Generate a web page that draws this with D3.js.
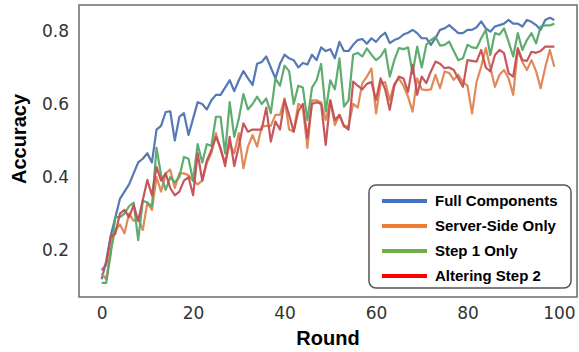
<!DOCTYPE html>
<html>
<head>
<meta charset="utf-8">
<script src="https://cdn.jsdelivr.net/npm/d3@7"></script>
<style>
  body { margin: 0; background: #fff; }
  svg { display: block; }
</style>
</head>
<body>
<div class="chart-container"></div>
<script>
// accuracy per round
const fullComponents = [
  0.12, 0.17, 0.24, 0.29, 0.34, 0.36, 0.38, 0.41, 0.44, 0.45,
  0.465, 0.44, 0.53, 0.54, 0.578, 0.58, 0.50, 0.565, 0.575, 0.515,
  0.56, 0.605, 0.60, 0.585, 0.61, 0.625, 0.625, 0.645, 0.665, 0.635,
  0.665, 0.69, 0.67, 0.652, 0.71, 0.715, 0.73, 0.70, 0.67, 0.71,
  0.735, 0.725, 0.72, 0.70, 0.712, 0.708, 0.735, 0.72, 0.755, 0.745,
  0.75, 0.725, 0.77, 0.745, 0.745, 0.762, 0.775, 0.778, 0.765, 0.78,
  0.77, 0.785, 0.795, 0.767, 0.775, 0.78, 0.79, 0.795, 0.803, 0.794,
  0.78, 0.78, 0.762, 0.78, 0.803, 0.807, 0.816, 0.805, 0.794, 0.794,
  0.803, 0.803, 0.81, 0.826, 0.807, 0.798, 0.812, 0.816, 0.82, 0.83,
  0.82, 0.82, 0.812, 0.83, 0.825, 0.816, 0.803, 0.83, 0.836, 0.83
];
const serverSideOnly = [
  0.137, 0.12, 0.20, 0.255, 0.27, 0.246, 0.30, 0.28, 0.285, 0.255,
  0.33, 0.31, 0.40, 0.36, 0.41, 0.42, 0.37, 0.41, 0.41, 0.405,
  0.39, 0.38, 0.39, 0.438, 0.465, 0.52, 0.474, 0.44, 0.49, 0.465,
  0.52, 0.424, 0.483, 0.515, 0.483, 0.538, 0.54, 0.54, 0.57, 0.57,
  0.615, 0.53, 0.525, 0.60, 0.59, 0.48, 0.61, 0.61, 0.605, 0.556,
  0.61, 0.542, 0.57, 0.538, 0.54, 0.60, 0.59, 0.657, 0.675, 0.697,
  0.574, 0.655, 0.66, 0.61, 0.655, 0.67, 0.65, 0.62, 0.579, 0.67,
  0.64, 0.638, 0.64, 0.68, 0.643, 0.689, 0.685, 0.666, 0.68, 0.66,
  0.65, 0.574, 0.661, 0.702, 0.753, 0.70, 0.647, 0.68, 0.693, 0.67,
  0.625, 0.748, 0.715, 0.693, 0.72, 0.69, 0.643, 0.70, 0.748, 0.702
];
const step1Only = [
  0.11, 0.11, 0.19, 0.29, 0.29, 0.30, 0.32, 0.33, 0.227, 0.335,
  0.33, 0.32, 0.48, 0.405, 0.365, 0.40, 0.385, 0.40, 0.455, 0.45,
  0.39, 0.49, 0.44, 0.49, 0.485, 0.565, 0.565, 0.465, 0.605, 0.51,
  0.56, 0.627, 0.585, 0.60, 0.62, 0.60, 0.615, 0.575, 0.67, 0.65,
  0.705, 0.69, 0.60, 0.65, 0.645, 0.556, 0.645, 0.665, 0.71, 0.58,
  0.665, 0.64, 0.725, 0.593, 0.61, 0.735, 0.74, 0.73, 0.752, 0.735,
  0.72, 0.73, 0.75, 0.675, 0.72, 0.753, 0.75, 0.755, 0.684, 0.757,
  0.70, 0.762, 0.775, 0.784, 0.76, 0.762, 0.771, 0.745, 0.72, 0.725,
  0.762, 0.755, 0.753, 0.78, 0.803, 0.734, 0.794, 0.79, 0.807, 0.77,
  0.73, 0.794, 0.748, 0.775, 0.794, 0.766, 0.812, 0.815, 0.815, 0.82
];
const alteringStep2 = [
  0.145, 0.16, 0.236, 0.245, 0.30, 0.31, 0.29, 0.323, 0.28, 0.337,
  0.392, 0.35, 0.428, 0.39, 0.41, 0.37, 0.35, 0.36, 0.39, 0.40,
  0.35, 0.465, 0.39, 0.445, 0.474, 0.51, 0.48, 0.43, 0.51, 0.43,
  0.485, 0.547, 0.524, 0.53, 0.53, 0.53, 0.59, 0.497, 0.552, 0.53,
  0.611, 0.57, 0.524, 0.58, 0.60, 0.507, 0.60, 0.605, 0.60, 0.488,
  0.61, 0.556, 0.57, 0.54, 0.53, 0.661, 0.65, 0.64, 0.655, 0.66,
  0.611, 0.67, 0.64, 0.584, 0.65, 0.675, 0.67, 0.633, 0.707, 0.625,
  0.675, 0.657, 0.689, 0.716, 0.71, 0.698, 0.70, 0.693, 0.67, 0.647,
  0.72, 0.718, 0.716, 0.748, 0.70, 0.689, 0.734, 0.748, 0.739, 0.684,
  0.675, 0.753, 0.72, 0.718, 0.743, 0.74, 0.745, 0.757, 0.757, 0.757
];

const seriesNames = ['Full Components', 'Server-Side Only', 'Step 1 Only', 'Altering Step 2'];
const xTicks = [0, 20, 40, 60, 80, 100];
const yTicks = [0.2, 0.4, 0.6, 0.8];

const lineColors = ['#4c72b0', '#dd8452', '#55a868', '#c44e52'];
const legendColors = ['#4472c4', '#ed7d31', '#70ad47', '#ff0000'];

const allSeries = [fullComponents, serverSideOnly, step1Only, alteringStep2];

const width = 579;
const height = 352;
const margin = { top: 5, right: 2, bottom: 55, left: 79 };
const innerW = width - margin.left - margin.right;
const innerH = height - margin.top - margin.bottom;

const svg = d3
  .select('.chart-container')
  .append('svg')
  .attr('width', width)
  .attr('height', height);

const g = svg
  .append('g')
  .attr('transform', `translate(${margin.left},${margin.top})`);

const x = d3.scaleLinear().domain([-4.95, 103.95]).range([0, innerW]);
const y = d3.scaleLinear().domain([0.0715, 0.871]).range([innerH, 0]);

// series lines
const line = d3
  .line()
  .x((d, i) => x(i))
  .y((d) => y(d));

allSeries.forEach((values, k) => {
  g.append('path')
    .datum(values)
    .attr('fill', 'none')
    .attr('stroke', lineColors[k])
    .attr('stroke-width', 2.2)
    .attr('stroke-opacity', 0.95)
    .attr('stroke-linejoin', 'round')
    .attr('d', line);
});

// axes without tick marks
const xAxis = g
  .append('g')
  .attr('transform', `translate(0,${innerH})`)
  .call(d3.axisBottom(x).tickValues(xTicks).tickSize(0).tickPadding(10));

const yAxis = g
  .append('g')
  .call(d3.axisLeft(y).tickValues(yTicks).tickFormat(d3.format('.1f')).tickSize(0).tickPadding(10));

[xAxis, yAxis].forEach((ax) => {
  ax.select('.domain').remove();
  ax.selectAll('text')
    .attr('font-family', 'DejaVu Sans, sans-serif')
    .attr('font-size', 17)
    .attr('fill', '#333');
});

// frame
g.append('rect')
  .attr('width', innerW)
  .attr('height', innerH)
  .attr('fill', 'none')
  .attr('stroke', '#6b6b6b')
  .attr('stroke-width', 1.5);

// axis titles
svg.append('text')
  .attr('x', margin.left + innerW / 2)
  .attr('y', 345)
  .attr('text-anchor', 'middle')
  .attr('font-family', 'Liberation Sans, Arial, sans-serif')
  .attr('font-weight', 'bold')
  .attr('font-size', 20)
  .attr('fill', '#000')
  .text('Round');

svg.append('text')
  .attr('transform', `translate(26,${margin.top + innerH / 2 - 12}) rotate(-90)`)
  .attr('text-anchor', 'middle')
  .attr('font-family', 'Liberation Sans, Arial, sans-serif')
  .attr('font-weight', 'bold')
  .attr('font-size', 20)
  .attr('fill', '#000')
  .text('Accuracy');

// legend
const legend = svg.append('g').attr('transform', 'translate(369,185)');

legend.append('rect')
  .attr('width', 202)
  .attr('height', 103)
  .attr('rx', 7)
  .attr('fill', '#fff')
  .attr('stroke', '#555')
  .attr('stroke-width', 1.5);

seriesNames.forEach((name, k) => {
  const ly = 16 + k * 25;
  legend.append('line')
    .attr('x1', 13)
    .attr('x2', 58)
    .attr('y1', ly)
    .attr('y2', ly)
    .attr('stroke', legendColors[k])
    .attr('stroke-width', 4);
  legend.append('text')
    .attr('x', 66)
    .attr('y', ly + 5)
    .attr('font-family', 'Liberation Sans, Arial, sans-serif')
    .attr('font-weight', 'bold')
    .attr('font-size', 15)
    .attr('fill', '#000')
    .text(name);
});
</script>
</body>
</html>
